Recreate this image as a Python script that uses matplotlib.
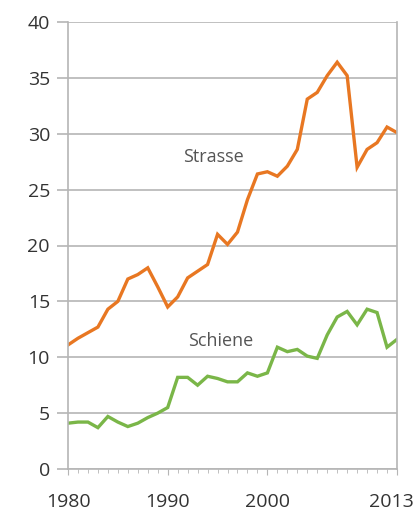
import numpy as np
import matplotlib.pyplot as plt
from matplotlib.transforms import ScaledTranslation

plt.rcParams['font.family'] = ['Open Sans', 'DejaVu Sans']

# Jahre und Werte
jahre = np.arange(1980, 2014)
strasse = [11.1, 11.7, 12.2, 12.7, 14.3, 15.0, 17.0, 17.4, 18.0, 16.3,
           14.5, 15.4, 17.1, 17.7, 18.3, 21.0, 20.1, 21.2, 24.1, 26.4,
           26.6, 26.2, 27.1, 28.6, 33.1, 33.7, 35.2, 36.4, 35.2, 27.0,
           28.6, 29.2, 30.6, 30.1]
schiene = [4.1, 4.2, 4.2, 3.7, 4.7, 4.2, 3.8, 4.1, 4.6, 5.0,
           5.5, 8.2, 8.2, 7.5, 8.3, 8.1, 7.8, 7.8, 8.6, 8.3,
           8.6, 10.9, 10.5, 10.7, 10.1, 9.9, 12.0, 13.6, 14.1, 12.9,
           14.3, 14.0, 10.9, 11.6]
xticks = [1980, 1990, 2000, 2013]
yticks = list(range(0, 45, 5))

fig = plt.figure(figsize=(4.2, 5.15), dpi=100)
ax = fig.add_axes([68/420, 1-469/515, (397-68)/420, (469-22)/515])

ax.plot(jahre, strasse, color='#E87722', lw=2.4, solid_joinstyle='miter')
ax.plot(jahre, schiene, color='#7AB648', lw=2.4, solid_joinstyle='miter')

ax.set_xlim(1980, 2013)
ax.set_ylim(0, 40)
ax.set_yticks(yticks)
ax.set_xticks(xticks)
ax.set_xticks(jahre, minor=True)
ax.grid(axis='y', color='#b5b5b5', lw=1.2)
ax.set_axisbelow(True)

for s in ['left', 'right', 'bottom']:
    ax.spines[s].set_color('#b5b5b5')
    ax.spines[s].set_linewidth(1.2)
ax.spines['top'].set_visible(False)
ax.tick_params(axis='y', length=8, width=1.2, color='#b5b5b5', pad=5,
               labelsize=14, labelcolor='#333333')
ax.tick_params(axis='x', which='major', length=4, color='#b5b5b5', pad=13,
               labelsize=14, labelcolor='#333333')
ax.tick_params(axis='x', which='minor', length=3, color='#b5b5b5')

# letztes Label etwas nach links
lbl = ax.get_xticklabels()[-1]
lbl.set_transform(lbl.get_transform() + ScaledTranslation(-6/100, 0, fig.dpi_scale_trans))

ax.text(1994.6, 27.9, 'Strasse', fontsize=13, color='#555555', ha='center', va='center')
ax.text(1995.3, 11.45, 'Schiene', fontsize=13, color='#555555', ha='center', va='center')

fig.savefig('out.png', dpi=100)
